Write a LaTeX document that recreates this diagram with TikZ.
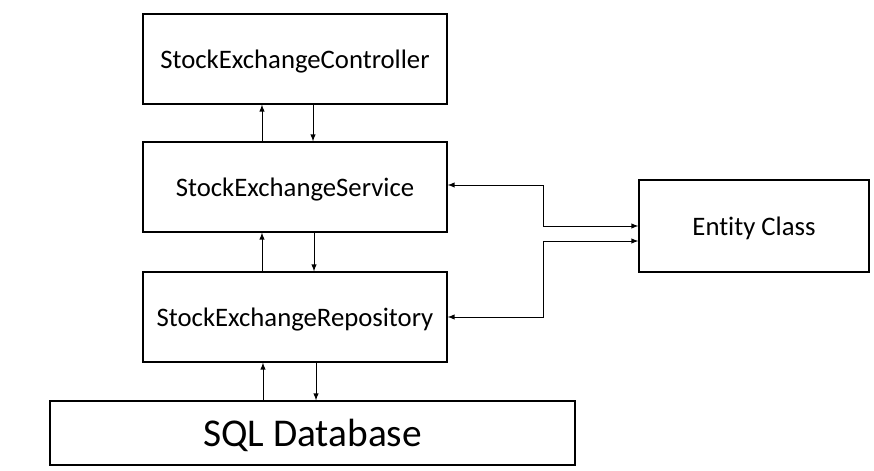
\documentclass[tikz,border=0pt]{standalone}
\usepackage{fontspec}
\setmainfont{Carlito}[Ligatures=NoCommon]
\usepackage{tikz}
\usetikzlibrary{shapes, arrows, positioning, calc}

\begin{document}
\begin{tikzpicture}[x=0.025cm, y=-0.025cm, >=latex,
	box/.style={draw, line width=0.9pt, minimum width=7.6cm, minimum height=2.25cm, text depth=0pt, font=\fontsize{19}{23}\selectfont},
	link/.style={line width=0.7pt}]
	\useasboundingbox (0,0) rectangle (874,471);
	\node[box] (ctrl) at (295,59) {StockExchangeController};
	\node[box] (serv) at (295,187) {StockExchangeService};
	\node[box] (repo) at (295,317) {StockExchangeRepository};
	\node[box, minimum width=13.125cm, minimum height=1.6cm, font=\fontsize{28}{33}\selectfont] (db) at (312.5,433) {SQL Database};
	\node[box, minimum width=5.75cm, minimum height=2.3cm] (ent) at (754,226) {Entity Class};
	% up and down between the layers
	\draw[link, ->] ([xshift=-0.825cm]serv.north) -- ([xshift=-0.825cm]ctrl.south);
	\draw[link, ->] ([xshift=0.45cm]ctrl.south) -- ([xshift=0.45cm]serv.north);
	\draw[link, ->] ([xshift=-0.825cm]repo.north) -- ([xshift=-0.825cm]serv.south);
	\draw[link, ->] ([xshift=0.475cm]serv.south) -- ([xshift=0.475cm]repo.north);
	\draw[link, ->] ([xshift=-0.8cm]db.north -| repo.south) -- ([xshift=-0.8cm]repo.south);
	\draw[link, ->] ([xshift=0.525cm]repo.south) -- ([xshift=0.525cm]repo.south |- db.north);
	% to the entity class
	\draw[link, <->] ([yshift=0.05cm]serv.east) -- ++(96,0) |- (ent.west);
	\draw[link, <->] (repo.east) -- ++(96,0) |- ([yshift=-0.375cm]ent.west);
\end{tikzpicture}
\end{document}
